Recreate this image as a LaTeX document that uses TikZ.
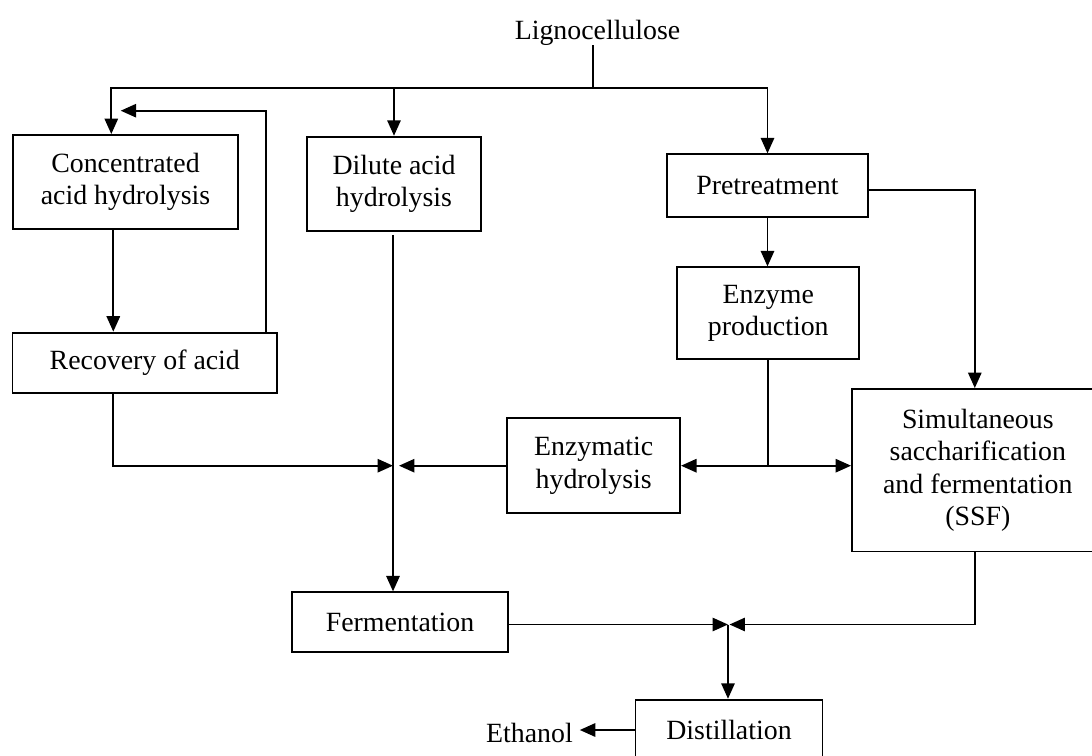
\documentclass[tikz,border=0pt]{standalone}
\usepackage{fontspec}
\setmainfont{Liberation Serif}
\usetikzlibrary{arrows.meta,calc}
\newcommand{\fsz}{\fontsize{19.8}{23}\selectfont}
\tikzset{box/.style={draw,line width=1.3pt,inner sep=0pt,align=center,font=\fsz},
flow/.style={-{Triangle[length=11pt,width=9.5pt]},line width=1.3pt},
link/.style={line width=1.3pt},
lab/.style={font=\fsz,inner sep=0pt}}

\begin{document}
\begin{tikzpicture}[x=.025cm,y=-.025cm]
\useasboundingbox (0,0) rectangle (1092,756);
\node[lab,anchor=base] (ligno) at (597.5,39) {Lignocellulose};
\node[box,minimum width=5.64cm,minimum height=2.35cm] (conc) at (125.5,182) {Concentrated\\acid hydrolysis};
\node[box,minimum width=4.365cm,minimum height=2.35cm] (dilute) at (394,183.7) {Dilute acid\\hydrolysis};
\node[box,minimum width=6.61cm,minimum height=1.51cm] (recov) at (144.8,362.8) {Recovery of acid};
\node[box,minimum width=5.04cm,minimum height=1.56cm] (pretreat) at (767.5,185.5) {Pretreatment};
\node[box,minimum width=4.55cm,minimum height=2.3cm] (enzprod) at (768.3,313.3) {Enzyme\\production};
\node[box,minimum width=4.32cm,minimum height=2.375cm] (enzhyd) at (593.7,465.7) {Enzymatic\\hydrolysis};
\node[box,minimum width=6.29cm,minimum height=4.06cm] (ssf) at (977.8,470.2) {Simultaneous\\saccharification\\and fermentation\\(SSF)};
\node[box,minimum width=5.385cm,minimum height=1.5cm] (ferm) at (400,622.3) {Fermentation};
\node[box,minimum width=4.67cm,minimum height=1.515cm] (distil) at (729,730) {Distillation};
\node[lab,anchor=base east] (ethanol) at (573,742) {Ethanol};
% feed split
\coordinate (split) at (593.3,87.7);
\draw[link] (ligno.south -| split) -- (split);
\draw[flow] (split) -| ($(conc.north)+(-14.2,0)$);
\draw[flow] (split) -| (dilute.north);
\draw[flow] (split) -| (pretreat.north);
% acid route
\coordinate (cdrop) at ($(conc.south)+(-12.2,0)$);
\coordinate (rrise) at ($(recov.north east)+(-12,0)$);
\coordinate (cret) at (120.7,110.7);
\draw[flow] (cdrop) -- (cdrop |- recov.north);
\draw[flow] (rrise) |- (cret);
\coordinate (mix) at (393,465.7);
\coordinate (rdrop) at ($(recov.south west)+(101.6,0)$);
\coordinate (dout) at ($(dilute.south)+(-1,3.3)$);
\draw[flow] (rdrop) |- (mix);
\draw[flow] (dout) -- (dout |- ferm.north);
\draw[flow] (enzhyd.west) -- ($(mix)+(6,0)$);
% enzyme route
\coordinate (esplit) at (enzprod.south |- enzhyd.east);
\draw[flow] (pretreat.south) -- (pretreat.south |- enzprod.north);
\draw[flow] ($(pretreat.east)+(0,4.8)$) -| ($(ssf.north)+(-3,0)$);
\draw[link] (enzprod.south) -- (esplit);
\draw[flow] (esplit) -- (enzhyd.east);
\draw[flow] (esplit) -- (esplit -| ssf.west);
% products
\coordinate (join) at (728,624.5);
\draw[flow] (ferm.east |- join) -- (join);
\draw[flow] ($(ssf.south)+(-2.5,0)$) |- ($(join)+(1.5,0)$);
\draw[flow] (join) -- (join |- distil.north);
\draw[flow,shorten >=0.17cm] (distil.west) -- (distil.west -| ethanol.east);
\end{tikzpicture}
\end{document}
